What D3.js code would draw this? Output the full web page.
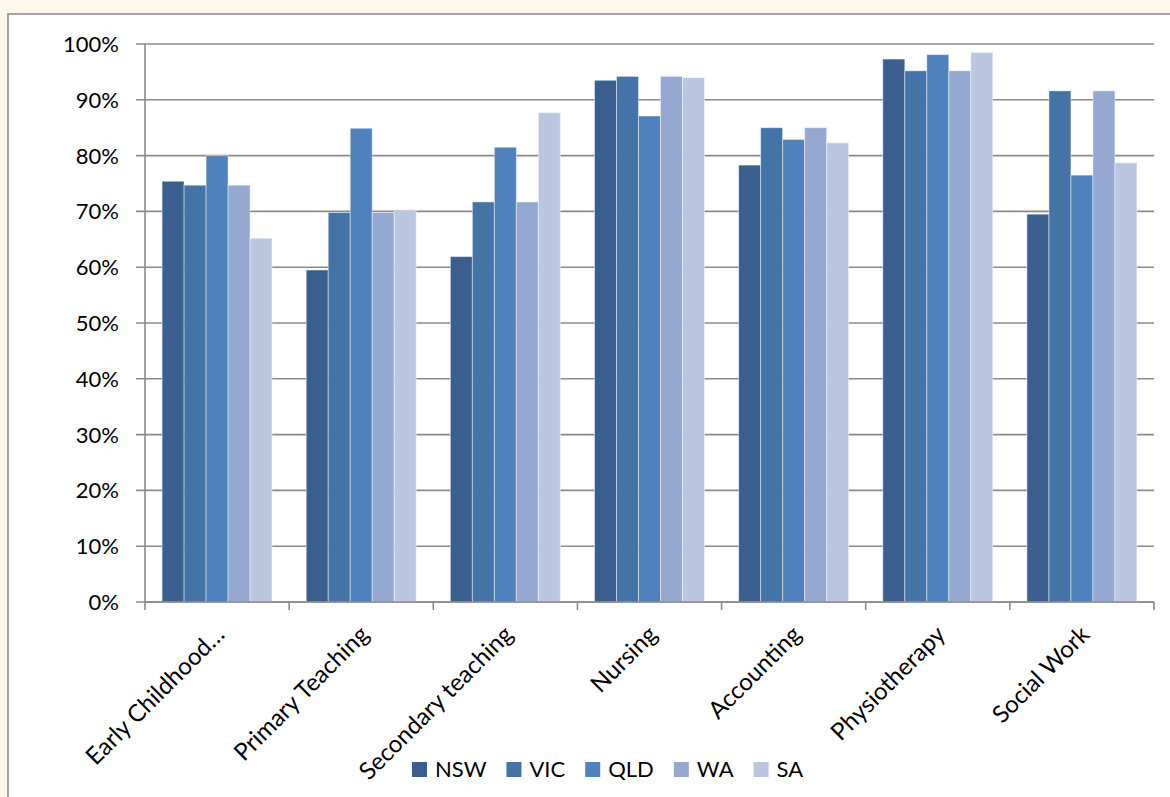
<!DOCTYPE html>
<html>
<head>
<meta charset="utf-8">
<script src="https://cdn.jsdelivr.net/npm/d3@7"></script>
<style>
  html, body { margin: 0; padding: 0; background: #fdf7ec; }
  svg { display: block; }
  text { font-family: Lato, "Open Sans", sans-serif; fill: #000; }
</style>
</head>
<body>
<svg id="chart" width="1170" height="797"></svg>
<script>
// ---- data ----
const categories = ["Early Childhood…", "Primary Teaching", "Secondary teaching", "Nursing", "Accounting", "Physiotherapy", "Social Work"];
const seriesNames = ["NSW", "VIC", "QLD", "WA", "SA"];
const nsw = [75.4, 59.5, 61.9, 93.5, 78.3, 97.3, 69.5];
const vic = [74.7, 69.8, 71.7, 94.2, 85.0, 95.2, 91.6];
const qld = [80.0, 84.9, 81.5, 87.1, 82.9, 98.1, 76.5];
const wa  = [74.7, 69.8, 71.7, 94.2, 85.0, 95.2, 91.6];
const sa  = [65.2, 70.3, 87.7, 94.0, 82.3, 98.5, 78.7];
const yTicks = [0, 10, 20, 30, 40, 50, 60, 70, 80, 90, 100];
const yTickLabels = ["0%", "10%", "20%", "30%", "40%", "50%", "60%", "70%", "80%", "90%", "100%"];

const seriesValues = [nsw, vic, qld, wa, sa];
const colors = ["#3a5f8e", "#4473a8", "#4f81bd", "#95a9d0", "#bbc7e1"];

const svg = d3.select("#chart");

// chart frame
svg.append("rect").attr("x", 8).attr("y", 14).attr("width", 1180).attr("height", 800)
  .attr("fill", "#ffffff").attr("stroke", "#a3a3a3").attr("stroke-width", 2);

const plotLeft = 145, plotRight = 1154, plotTop = 44, plotBottom = 602;

const x0 = d3.scaleBand().domain(categories).range([plotLeft, plotRight])
  .paddingInner(0.237).paddingOuter(0.1185);
const x1 = d3.scaleBand().domain(seriesNames).range([0, x0.bandwidth()]);
const y = d3.scaleLinear().domain([0, 100]).range([plotBottom, plotTop]);

const gridColor = "#8a8a8a";

// gridlines (with left tick extension)
svg.append("g").selectAll("line").data(yTicks).join("line")
  .attr("x1", plotLeft - 9).attr("x2", plotRight)
  .attr("y1", d => y(d)).attr("y2", d => y(d))
  .attr("stroke", gridColor).attr("stroke-width", 1.6);

// y tick labels
svg.append("g").selectAll("text").data(yTicks).join("text")
  .attr("x", 119).attr("y", d => y(d)).attr("dy", "0.36em")
  .attr("text-anchor", "end").attr("font-size", 22)
  .text((d, i) => yTickLabels[i]);

// y axis line
svg.append("line").attr("x1", plotLeft).attr("x2", plotLeft).attr("y1", plotTop).attr("y2", plotBottom)
  .attr("stroke", gridColor).attr("stroke-width", 1.6);

// bars
const groups = svg.append("g").selectAll("g").data(categories).join("g")
  .attr("transform", d => `translate(${x0(d)},0)`);
groups.selectAll("rect")
  .data((c, ci) => seriesNames.map((s, si) => ({ s, si, v: seriesValues[si][ci] })))
  .join("rect")
  .attr("x", d => x1(d.s))
  .attr("width", x1.bandwidth())
  .attr("y", d => y(d.v))
  .attr("height", d => y(0) - y(d.v))
  .attr("fill", d => colors[d.si])
  .attr("stroke", "rgba(255,255,255,0.45)")
  .attr("stroke-width", 1);

// x axis line + ticks at category boundaries
svg.append("line").attr("x1", plotLeft).attr("x2", plotRight).attr("y1", plotBottom).attr("y2", plotBottom)
  .attr("stroke", gridColor).attr("stroke-width", 1.6);
const step = x0.step();
const boundaries = d3.range(categories.length + 1).map(i => plotLeft + i * step);
svg.append("g").selectAll("line").data(boundaries).join("line")
  .attr("x1", d => d).attr("x2", d => d).attr("y1", plotBottom).attr("y2", plotBottom + 8)
  .attr("stroke", gridColor).attr("stroke-width", 1.6);

// x labels rotated
svg.append("g").selectAll("text").data(categories).join("text")
  .attr("transform", d => `translate(${x0(d) + x0.bandwidth() / 2 + 9},${plotBottom + 34}) rotate(-45)`)
  .attr("text-anchor", "end").attr("font-size", 24)
  .text(d => d);

// legend
const legend = svg.append("g");
let lx = 412;
seriesNames.forEach((s, i) => {
  legend.append("rect").attr("x", lx).attr("y", 762).attr("width", 15).attr("height", 15)
    .attr("fill", colors[i]);
  const t = legend.append("text").attr("x", lx + 23).attr("y", 769.5).attr("dy", "0.36em")
    .attr("font-size", 22).text(s);
  const w = t.node().getComputedTextLength();
  lx += 23 + w + 20;
});
</script>
</body>
</html>
